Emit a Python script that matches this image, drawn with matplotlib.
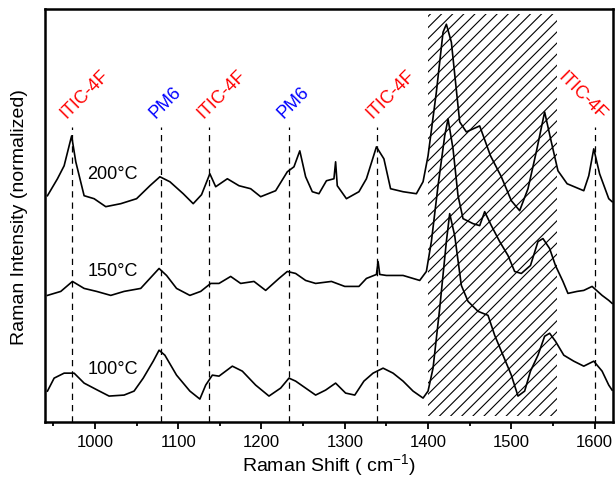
import matplotlib
matplotlib.use("Agg")
import matplotlib.pyplot as plt

plt.rcParams['font.family'] = ['Liberation Sans', 'DejaVu Sans']
plt.rcParams['mathtext.fontset'] = 'custom'
plt.rcParams['mathtext.rm'] = 'Liberation Sans'
plt.rcParams['mathtext.default'] = 'regular'
plt.rcParams['hatch.linewidth'] = 0.8

# 200 °C 스펙트럼 (오프셋 포함)
shift_200 = [943, 955, 963, 972, 977, 987, 999, 1013, 1031, 1050, 1066, 1078, 1090, 1106,
             1118, 1128, 1138, 1145, 1159, 1173, 1187, 1199, 1217, 1231, 1239, 1246, 1253,
             1261, 1269, 1278, 1287, 1289, 1291, 1302, 1317, 1326, 1338, 1347, 1355, 1370,
             1386, 1394, 1400, 1410, 1418, 1422, 1428, 1438, 1446, 1454, 1462, 1475, 1488,
             1500, 1510, 1520, 1530, 1540, 1548, 1556, 1567, 1587, 1593, 1599, 1606, 1617, 1621]
int_200 = [227, 244, 257, 287, 261, 227, 224, 216, 219, 224, 237, 246, 241, 229,
           219, 228, 249, 236, 244, 237, 234, 226, 232, 251, 256, 272, 246,
           231, 229, 242, 244, 261, 237, 224, 231, 244, 276, 264, 234, 231,
           229, 241, 267, 331, 391, 399, 381, 301, 291, 294, 297, 267, 246,
           222, 212, 234, 271, 311, 281, 252, 239, 232, 247, 274, 249, 224, 221]

# 150 °C
shift_150 = [943, 959, 973, 987, 1002, 1019, 1035, 1055, 1066, 1077, 1086, 1098, 1114, 1127,
             1139, 1149, 1163, 1175, 1191, 1205, 1221, 1231, 1241, 1253, 1265, 1284, 1300,
             1317, 1326, 1338, 1340, 1342, 1350, 1370, 1390, 1398, 1404, 1412, 1420, 1424,
             1430, 1436, 1442, 1454, 1462, 1468, 1476, 1486, 1496, 1504, 1512, 1523, 1532,
             1538, 1546, 1553, 1562, 1568, 1579, 1587, 1597, 1609, 1617, 1621]
int_150 = [127, 131, 141, 134, 131, 127, 131, 134, 144, 154, 147, 134, 127, 131,
           139, 139, 146, 139, 141, 132, 144, 151, 149, 142, 139, 141, 136,
           136, 144, 148, 161, 148, 147, 147, 142, 151, 181, 237, 287, 304,
           274, 227, 204, 199, 197, 211, 197, 181, 167, 151, 149, 157, 181,
           184, 174, 157, 141, 129, 131, 132, 136, 127, 122, 119]

# 100 °C
shift_100 = [943, 951, 963, 975, 987, 1003, 1017, 1035, 1047, 1058, 1070, 1077, 1084, 1098,
             1114, 1126, 1133, 1141, 1149, 1165, 1177, 1193, 1209, 1223, 1233, 1241, 1253,
             1265, 1277, 1289, 1301, 1312, 1323, 1334, 1346, 1358, 1370, 1382, 1394, 1400,
             1406, 1414, 1422, 1426, 1432, 1440, 1448, 1460, 1472, 1480, 1490, 1500, 1508,
             1516, 1523, 1532, 1540, 1546, 1553, 1563, 1575, 1587, 1599, 1609, 1617, 1621]
int_100 = [31, 44, 49, 49, 39, 32, 26, 27, 31, 44, 61, 72, 67, 47,
           31, 23, 37, 47, 46, 56, 51, 37, 26, 34, 44, 41, 34,
           27, 32, 39, 29, 27, 41, 49, 54, 49, 41, 31, 24, 31,
           54, 114, 181, 209, 187, 137, 121, 111, 107, 87, 67, 47, 26,
           31, 51, 67, 86, 89, 81, 67, 61, 56, 61, 51, 37, 32]

# 피크 위치 / 라벨
peak_pos = [972, 1079, 1137, 1233, 1339, 1600]
peak_names = ['ITIC-4F', 'PM6', 'ITIC-4F', 'PM6', 'ITIC-4F', 'ITIC-4F']
peak_colors = ['red', 'blue', 'red', 'blue', 'red', 'red']

temps = ['200°C', '150°C', '100°C']
temp_y = [249, 152, 54]

fig = plt.figure(figsize=(6.16, 4.81), dpi=100)
ax = fig.add_axes([0.073, 0.1206, 0.922, 0.858])

# 빗금 영역
ax.fill_between([1400, 1555], 6, 409, facecolor='none', edgecolor='black',
                hatch='///', linewidth=0)

for s, v in [(shift_200, int_200), (shift_150, int_150), (shift_100, int_100)]:
    ax.plot(s, v, color='black', lw=1.2)

for xp, name, c in zip(peak_pos, peak_names, peak_colors):
    ax.plot([xp, xp], [0, 296], color='black', lw=0.9, linestyle=(0, (5, 4)))
    if xp > 1550:
        ax.text(xp + 3, 300, name, color=c, fontsize=13, rotation=-45,
                rotation_mode='anchor', ha='right', va='bottom')
    else:
        ax.text(xp - 3, 302, name, color=c, fontsize=13, rotation=45,
                rotation_mode='anchor', ha='left', va='bottom')

for t, y in zip(temps, temp_y):
    ax.text(1021, y, t, fontsize=13, ha='center', va='center')

ax.set_xlim(940, 1622)
ax.set_ylim(0, 414)
ax.set_yticks([])
ax.set_xticks([1000, 1100, 1200, 1300, 1400, 1500, 1600])
ax.set_xticks(range(950, 1622, 100), minor=True)
ax.tick_params(axis='x', which='major', direction='out', length=5, width=1.3, labelsize=12)
ax.tick_params(axis='x', which='minor', direction='out', length=3, width=1.3)
for sp in ax.spines.values():
    sp.set_linewidth(1.8)

ax.set_xlabel("Raman Shift ( cm$^{-1}$)", fontsize=14, labelpad=2)
ax.set_ylabel("Raman Intensity (normalized)", fontsize=14, labelpad=12)

plt.savefig("out.png", dpi=100)
